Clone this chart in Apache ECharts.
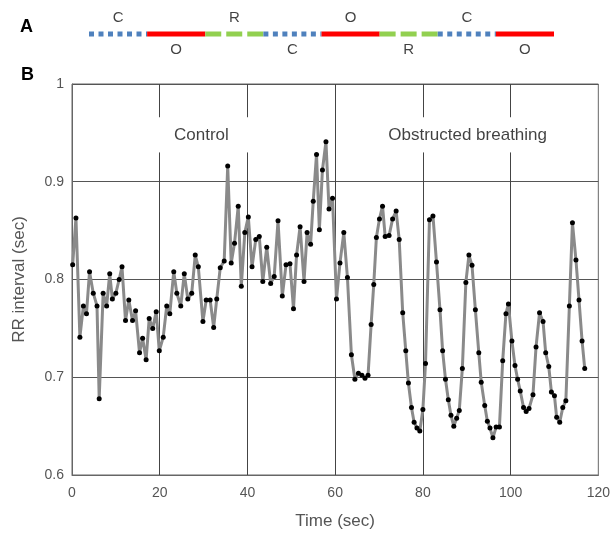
<!DOCTYPE html>
<html><head><meta charset="utf-8">
<script src="https://cdn.jsdelivr.net/npm/echarts@6/dist/echarts.min.js"></script>
<style>html,body{margin:0;padding:0;background:#fff}#c{width:613px;height:535px}</style>
</head><body><div id="c"></div>
<script>
// Panel A: breathing protocol segments (in order)
const segLabels = ['C','O','R','C','O','R','C','O'];
const segKinds  = ['control','obstructed','recovery','control','obstructed','recovery','control','obstructed'];

// Panel B: beat times (sec) and RR intervals (sec)
const beatTimes = [0.15,0.9,1.8,2.6,3.3,4.0,4.85,5.7,6.2,7.1,7.9,8.6,9.2,10.0,10.75,11.4,12.2,12.95,13.8,14.5,15.4,16.1,16.9,17.6,18.4,19.2,19.9,20.8,21.6,22.3,23.2,23.9,24.8,25.6,26.4,27.3,28.1,28.8,29.85,30.6,31.5,32.3,33.0,33.8,34.7,35.5,36.3,37.05,37.9,38.6,39.4,40.2,41.05,41.9,42.7,43.5,44.4,45.3,46.1,46.97,47.95,48.8,49.7,50.5,51.2,52.0,52.9,53.6,54.4,55.0,55.75,56.4,57.1,57.9,58.6,59.4,60.3,61.1,61.97,62.8,63.7,64.5,65.3,66.1,66.8,67.5,68.2,68.8,69.4,70.1,70.8,71.4,72.3,73.1,73.9,74.6,75.4,76.1,76.7,77.4,78.0,78.65,79.3,80.0,80.6,81.5,82.3,83.1,83.9,84.5,85.15,85.8,86.4,87.05,87.7,88.3,89.0,89.8,90.5,91.2,91.97,92.75,93.3,94.1,94.7,95.3,95.97,96.7,97.45,98.2,98.94,99.5,100.3,101.0,101.6,102.2,102.95,103.55,104.2,105.1,105.8,106.6,107.4,108.0,108.7,109.3,110.0,110.5,111.2,111.9,112.6,113.4,114.1,114.9,115.6,116.3,116.9];
const rrValues = [0.815,0.863,0.741,0.773,0.765,0.808,0.786,0.773,0.678,0.786,0.773,0.806,0.780,0.786,0.800,0.813,0.758,0.779,0.758,0.768,0.725,0.740,0.718,0.760,0.750,0.767,0.727,0.741,0.773,0.765,0.808,0.786,0.773,0.806,0.780,0.786,0.825,0.813,0.757,0.779,0.779,0.751,0.780,0.812,0.819,0.916,0.817,0.837,0.875,0.793,0.848,0.864,0.813,0.841,0.844,0.798,0.833,0.796,0.803,0.860,0.783,0.815,0.816,0.770,0.825,0.854,0.798,0.848,0.836,0.880,0.928,0.851,0.912,0.941,0.872,0.883,0.780,0.817,0.848,0.802,0.723,0.698,0.704,0.702,0.699,0.702,0.754,0.795,0.843,0.862,0.875,0.844,0.845,0.862,0.870,0.841,0.766,0.727,0.694,0.669,0.654,0.648,0.645,0.667,0.714,0.861,0.865,0.818,0.769,0.727,0.698,0.677,0.661,0.650,0.658,0.666,0.709,0.797,0.825,0.8145,0.769,0.725,0.695,0.671,0.655,0.648,0.638,0.649,0.649,0.717,0.765,0.775,0.737,0.712,0.698,0.686,0.669,0.665,0.668,0.682,0.731,0.766,0.757,0.725,0.711,0.685,0.681,0.659,0.654,0.669,0.676,0.773,0.858,0.820,0.779,0.737,0.709];

const xTicks = [0,20,40,60,80,100,120];
const yTicks = [0.6,0.7,0.8,0.9,1];
const phaseTitles = ['Control','Obstructed breathing'];
const phaseCenters = [29.5, 90.2];

const kindStyle = {
  control:   {color:'#4f81bd', type:[5,4.5]},
  obstructed:{color:'#ff0000', type:'solid'},
  recovery:  {color:'#92d050', type:[16,5]}
};

const series = [];
segKinds.forEach((k,i)=>{
  series.push({type:'line', xAxisIndex:1, yAxisIndex:1, silent:true, symbol:'none',
    data:[[i,0],[i+1,0]],
    lineStyle:{color:kindStyle[k].color, width:5, type:kindStyle[k].type, cap:'butt'}});
});
series.push({type:'scatter', xAxisIndex:1, yAxisIndex:1, silent:true, symbolSize:0,
  data: segLabels.map((s,i)=>({value:[i+0.5, i%2===0?0.8:-0.8], name:s})),
  label:{show:true, position:'inside', formatter:p=>p.name, color:'#111', fontSize:15, fontFamily:'Liberation Sans, Arial, sans-serif'}});

// vertical guide lines in panel B
const vLines = [];
xTicks.filter(x=>x>0 && x<120).forEach(x=>{
  if (x===60) { vLines.push([{coord:[x,0.6]},{coord:[x,1]}]); }
  else {
    vLines.push([{coord:[x,0.6]},{coord:[x,0.93]}]);
    vLines.push([{coord:[x,0.966]},{coord:[x,1]}]);
  }
});

series.push({type:'line', xAxisIndex:0, yAxisIndex:0,
  data: beatTimes.map((t,i)=>[t, rrValues[i]]),
  symbol:'circle', symbolSize:5, showSymbol:true,
  itemStyle:{color:'#000'}, lineStyle:{color:'#8a8a8a', width:3},
  z:5,
  markLine:{silent:true, symbol:'none', label:{show:false},
    lineStyle:{color:'#444', width:1, type:'solid'}, data:vLines}
});
series.push({type:'scatter', xAxisIndex:0, yAxisIndex:0, silent:true, symbolSize:0,
  data: phaseTitles.map((s,i)=>({value:[phaseCenters[i], 0.948], name:s})),
  label:{show:true, position:'inside', formatter:p=>p.name, color:'#111', fontSize:17, fontFamily:'Liberation Sans, Arial, sans-serif'}});

const chart = echarts.init(document.getElementById('c'), null, {renderer:'canvas'});
chart.setOption({
  animation:false,
  backgroundColor:'#fff',
  textStyle:{fontFamily:'Liberation Sans, Arial, sans-serif'},
  graphic:[
    {type:'text', left:20, top:18, style:{text:'A', font:'bold 18px Liberation Sans, Arial, sans-serif', fill:'#000'}},
    {type:'text', left:21, top:66, style:{text:'B', font:'bold 18px Liberation Sans, Arial, sans-serif', fill:'#000'}}
  ],
  grid:[
    {left:72, right:13, top:84, bottom:55, show:true, borderColor:'#666', borderWidth:1, containLabel:false},
    {left:89, right:59, top:14, height:40, show:false}
  ],
  xAxis:[
    {type:'value', gridIndex:0, min:0, max:120, interval:20,
     name:'Time (sec)', nameLocation:'middle', nameGap:38,
     nameTextStyle:{fontSize:17, color:'#555'},
     axisLine:{show:true, lineStyle:{color:'#666'}}, axisTick:{show:false},
     axisLabel:{color:'#555', fontSize:14, margin:11}, splitLine:{show:false}},
    {type:'value', gridIndex:1, min:0, max:8, show:false}
  ],
  yAxis:[
    {type:'value', gridIndex:0, min:0.6, max:1, interval:0.1,
     name:'RR interval (sec)', nameLocation:'middle', nameGap:44,
     nameTextStyle:{fontSize:17, color:'#555'},
     axisLine:{show:true, lineStyle:{color:'#666'}}, axisTick:{show:false},
     axisLabel:{color:'#555', fontSize:14, margin:8, formatter:v=>String(Math.round(v*10)/10)},
     splitLine:{show:true, lineStyle:{color:'#555', width:1}}},
    {type:'value', gridIndex:1, min:-1, max:1, show:false}
  ],
  series:series
});
</script></body></html>
